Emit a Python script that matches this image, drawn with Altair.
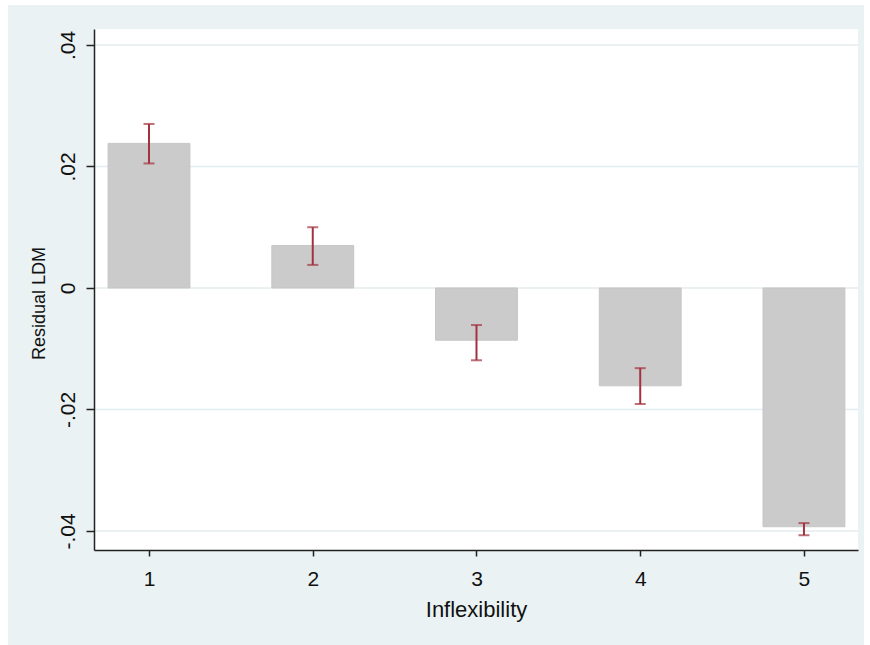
import altair as alt
import pandas as pd

# ---- data ----
categories = [1, 2, 3, 4, 5]
means = [0.0238, 0.0070, -0.0086, -0.0161, -0.0393]
ci_low = [0.0205, 0.0038, -0.0119, -0.0191, -0.0407]
ci_high = [0.0270, 0.0100, -0.0061, -0.0132, -0.0387]
y_ticks = [-0.04, -0.02, 0.0, 0.02, 0.04]
y_tick_labels = ["-.04", "-.02", "0", ".02", ".04"]
x_ticks = categories

df = pd.DataFrame({"cat": categories, "mean": means, "lo": ci_low, "hi": ci_high})
df["left"] = df["cat"] - 0.25
df["right"] = df["cat"] + 0.25
grid = pd.DataFrame({"v": y_ticks})
one = pd.DataFrame({"a": [0]})

W, H = 764, 521
FONT = "Liberation Sans"
BAR = "#CBCBCB"
ERR = "#A3323F"
FRAME = "#EAF2F3"

xs = alt.Scale(domain=[0.664, 5.33], nice=False, zero=False)
ys = alt.Scale(domain=[-0.04313, 0.04263], nice=False, zero=False)

label_expr = "''"
for v, l in reversed(list(zip(y_ticks, y_tick_labels))):
    label_expr = f"abs(datum.value - ({v})) < 1e-9 ? '{l}' : " + label_expr

yaxis = alt.Axis(values=y_ticks, labelExpr=label_expr, labelAngle=270,
                 labelAlign="center", labelBaseline="alphabetic", labelPadding=12,
                 tickSize=8, tickColor="#222", tickWidth=1.5,
                 domainColor="#222", domainWidth=1.5,
                 labelFontSize=21, labelColor="#111", labelFont=FONT,
                 labelOverlap=False, grid=False,
                 title="Residual LDM", titleFont=FONT, titleFontSize=18,
                 titleFontWeight="normal", titleColor="#111", titleAngle=270,
                 titleX=-50, titleY=274, titleBaseline="alphabetic", titleAlign="center",
                 zindex=1)
xaxis = alt.Axis(values=x_ticks, format="d", labelAngle=0, labelBaseline="alphabetic",
                 labelPadding=29, tickSize=6, tickColor="#222", tickWidth=1.5,
                 domainColor="#222", domainWidth=1.5,
                 labelFontSize=21, labelColor="#111", labelFont=FONT,
                 labelOverlap=False, labelFlush=False, grid=False,
                 title="Inflexibility", titleFont=FONT, titleFontSize=22,
                 titleFontWeight="normal", titleColor="#111",
                 titleY=66, titleBaseline="alphabetic", titleAlign="center",
                 zindex=1)

frame = alt.Chart(one).mark_rect(color=FRAME).encode(
    x=alt.value(-86), x2=alt.value(770), y=alt.value(-24), y2=alt.value(620))
plotbg = alt.Chart(one).mark_rect(color="white").encode(
    x=alt.value(0), x2=alt.value(W), y=alt.value(0), y2=alt.value(H))

gridlines = alt.Chart(grid).mark_rule(color="#E4EDEF", strokeWidth=1.5).encode(
    y=alt.Y("v:Q", scale=ys, axis=yaxis))

bars = alt.Chart(df).mark_rect(color=BAR, stroke="#C6C6C6", strokeWidth=1).encode(
    x=alt.X("left:Q", scale=xs, axis=xaxis),
    x2="right:Q",
    y=alt.Y("mean:Q", scale=ys, axis=yaxis),
    y2=alt.datum(0),
)

err = alt.Chart(df).mark_rule(color=ERR, strokeWidth=2).encode(
    x=alt.X("cat:Q", scale=xs, axis=xaxis),
    y=alt.Y("lo:Q", scale=ys, axis=yaxis),
    y2="hi:Q",
)
cap_lo = alt.Chart(df).mark_tick(orient="horizontal", size=11, thickness=2, color=ERR).encode(
    x=alt.X("cat:Q", scale=xs, axis=xaxis),
    y=alt.Y("lo:Q", scale=ys, axis=yaxis),
)
cap_hi = alt.Chart(df).mark_tick(orient="horizontal", size=11, thickness=2, color=ERR).encode(
    x=alt.X("cat:Q", scale=xs, axis=xaxis),
    y=alt.Y("hi:Q", scale=ys, axis=yaxis),
)

chart = alt.layer(frame, plotbg, gridlines, bars, err, cap_lo, cap_hi).properties(
    width=W, height=H,
    autosize=alt.AutoSizeParams(type="none"),
    padding={"left": 94, "top": 29, "right": 12, "bottom": 95},
    background="white",
).configure_view(strokeWidth=0)

chart.save("out.html", embed_options={"renderer": "svg", "actions": False})
